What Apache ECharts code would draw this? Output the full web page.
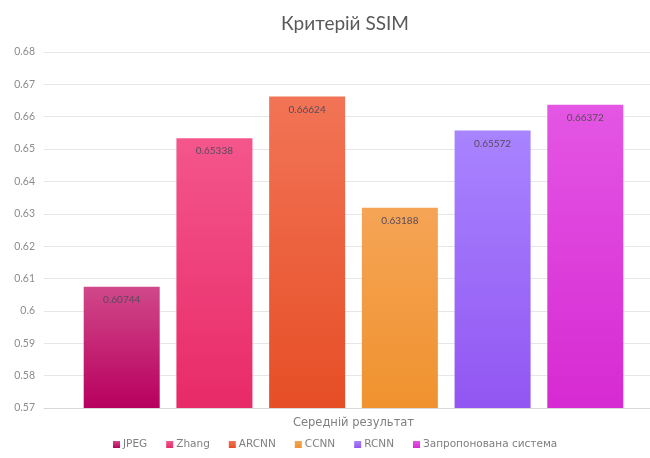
<!DOCTYPE html>
<html>
<head>
<meta charset="utf-8">
<script src="https://cdn.jsdelivr.net/npm/echarts@6/dist/echarts.min.js"></script>
<style>html,body{margin:0;padding:0;background:#fff;overflow:hidden;width:650px;height:458px;}#c{width:663px;height:458px;}</style>
</head>
<body>
<div id="c"></div>
<script>
const categories = ['Середній результат'];
const seriesNames = ['JPEG', 'Zhang', 'ARCNN', 'CCNN', 'RCNN', 'Запропонована система'];
const seriesValues = [0.60744, 0.65338, 0.66624, 0.63188, 0.65572, 0.66372];
const topColors = ['#d0488a', '#f4568c', '#f27456', '#f5a456', '#a884ff', '#e456e4'];
const bottomColors = ['#b8005e', '#e82a68', '#e64e26', '#f0922e', '#9256f2', '#d62ad2'];

const chart = echarts.init(document.getElementById('c'));
const font = 'Lato, "DejaVu Sans", sans-serif';
const wideFont = '"DejaVu Sans", sans-serif';
chart.setOption({
  animation: false,
  title: {
    text: 'Критерій SSIM', left: 340, top: 9, textAlign: 'center',
    textStyle: { fontFamily: font, fontSize: 19, fontWeight: 'normal', color: '#595959' }
  },
  grid: { left: 44, top: 52, bottom: 50, right: 0 },
  legend: {
    bottom: 3, left: 108, itemWidth: 7, itemHeight: 7, itemGap: 19,
    icon: 'rect',
    textStyle: { fontFamily: wideFont, fontSize: 10.5, color: '#7f7f7f', padding: [0, 0, 0, -2] },
    data: seriesNames
  },
  xAxis: {
    type: 'category', data: categories,
    axisLine: { lineStyle: { color: '#d9d9d9' } },
    axisTick: { show: false },
    axisLabel: { fontFamily: wideFont, fontSize: 11.5, color: '#7f7f7f', margin: 9 }
  },
  yAxis: {
    type: 'value', min: 0.57, max: 0.68, interval: 0.01,
    axisLine: { show: false }, axisTick: { show: false },
    splitLine: { lineStyle: { color: '#e6e6e6' } },
    axisLabel: {
      fontFamily: font, fontSize: 10.5, color: '#8c8c8c', margin: 9,
      formatter: v => String(Math.round(v * 100) / 100)
    }
  },
  series: seriesNames.map((name, i) => ({
    name: name, type: 'bar', barWidth: 76, barGap: '22%',
    data: [seriesValues[i]],
    itemStyle: {
      color: new echarts.graphic.LinearGradient(0, 0, 0, 1, [
        { offset: 0, color: topColors[i] }, { offset: 1, color: bottomColors[i] }
      ])
    },
    label: {
      show: true, position: 'insideTop', distance: 8,
      fontFamily: font, fontSize: 10, color: '#5a4a5a',
      formatter: p => String(p.value)
    }
  }))
});
</script>
</body>
</html>
